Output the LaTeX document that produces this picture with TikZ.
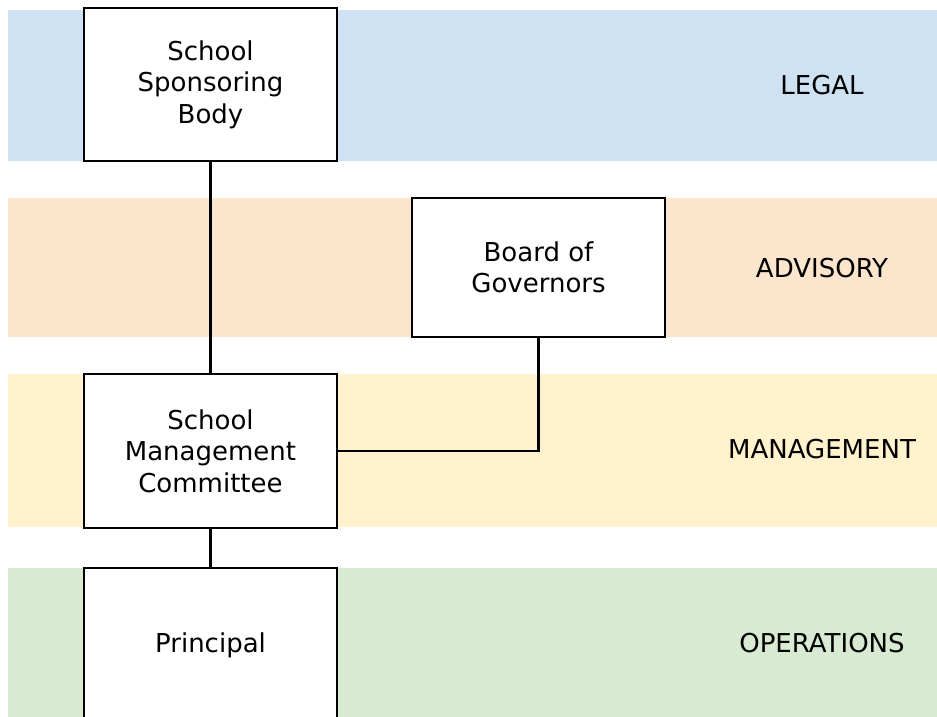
\documentclass[tikz,border=0pt]{standalone}
\usepackage{fontspec}
\setmainfont{DejaVu Sans}
\definecolor{legalc}{HTML}{CFE2F3}
\definecolor{advc}{HTML}{FCE5CD}
\definecolor{mgmtc}{HTML}{FFF2CC}
\definecolor{opsc}{HTML}{D9EAD3}
\tikzset{
  orgbox/.style={draw=black, line width=2.5pt, fill=white, minimum width=253pt, align=center, inner sep=0pt},
  bandlabel/.style={align=center, inner sep=0pt},
  link/.style={draw=black, line width=2.5pt}
}
\begin{document}
\begin{tikzpicture}[x=1pt,y=-1pt,font=\fontsize{26}{31.5}\selectfont]
\useasboundingbox (0,0) rectangle (937,717);
\clip (0,0) rectangle (937,717);
% bands
\fill[legalc] (8,10) rectangle (937,161);
\fill[advc] (8,198) rectangle (937,337);
\fill[mgmtc] (8,374) rectangle (937,527);
\fill[opsc] (8,568) rectangle (937,717);
% labels
\node[bandlabel] (lgl) at (822,85) {LEGAL};
\node[bandlabel] (adv) at (822,268) {ADVISORY};
\node[bandlabel] (mgt) at (822,449) {MANAGEMENT};
\node[bandlabel] (ops) at (822,643) {OPERATIONS};
% boxes
\node[orgbox, minimum height=153pt] (ssb) at (210.5,84.5) {School\\Sponsoring\\Body};
\node[orgbox, minimum height=139pt] (bog) at (538.5,267.5) {Board of\\Governors};
\node[orgbox, minimum height=154pt] (smc) at (210.5,451) {School\\Management\\Committee};
\node[orgbox, minimum height=155pt] (pri) at (210.5,645.5) {Principal};
% connectors
\draw[link] (ssb.south) -- (smc.north);
\draw[link] (bog.south) |- (smc.east);
\draw[link] (smc.south) -- (pri.north);
\end{tikzpicture}
\end{document}
